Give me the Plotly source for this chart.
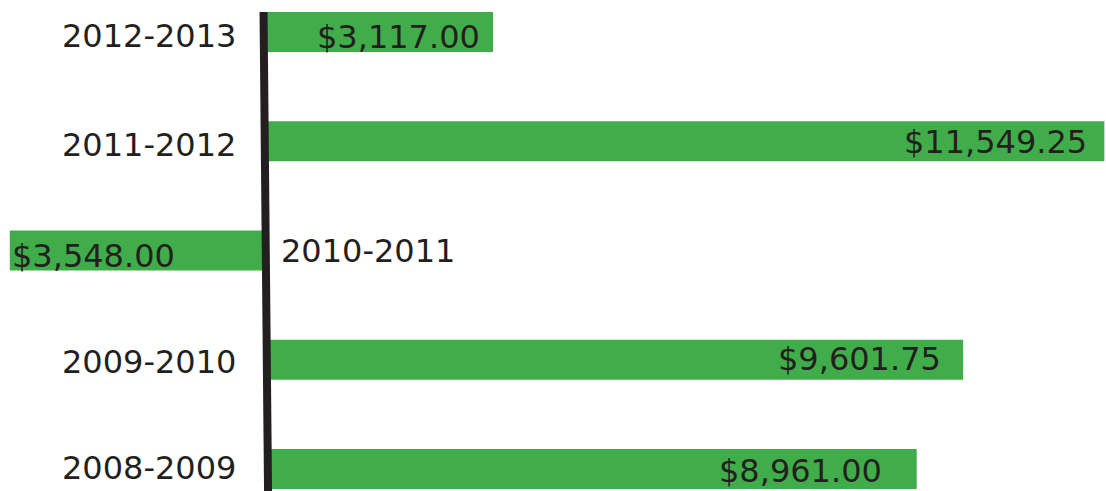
import plotly.graph_objects as go

# School years and the net amount for each one
years = ["2008-2009", "2009-2010", "2010-2011", "2011-2012", "2012-2013"]
amounts = [8961.00, 9601.75, -3548.00, 11549.25, 3117.00]
value_labels = ["$8,961.00", "$9,601.75", "$3,548.00", "$11,549.25", "$3,117.00"]

GREEN = "#40ad4a"
INK = "#231f20"
FONT = "DejaVu Sans, Verdana, sans-serif"
SIZE = 32

# per-row fine tuning of label placement (pixels)
value_gap = [33, 20, 0, 15, 11]
label_dy = [1, -2, 0, -4, -4]
value_dy = [-2, 1, -5, -1, -5]

fig = go.Figure(
    go.Bar(
        x=amounts,
        y=list(range(len(years))),
        orientation="h",
        width=0.366,
        marker=dict(color=GREEN, line=dict(width=0)),
        hoverinfo="skip",
    )
)

annotations = []
for i, (yr, v, lab) in enumerate(zip(years, amounts, value_labels)):
    if v >= 0:
        # year on the left of the axis, value inside the bar's right end
        annotations.append(dict(x=0, y=i, text=yr, xanchor="right", xshift=-29,
                                yshift=label_dy[i], showarrow=False))
        annotations.append(dict(x=v, y=i, text=lab, xanchor="right",
                                xshift=-value_gap[i], yshift=value_dy[i],
                                showarrow=False))
    else:
        # negative year: label goes right of the axis, value at the bar's left end
        annotations.append(dict(x=0, y=i, text=yr, xanchor="left", xshift=12,
                                yshift=label_dy[i], showarrow=False))
        annotations.append(dict(x=v, y=i, text=lab, xanchor="left",
                                xshift=value_gap[i], yshift=value_dy[i],
                                showarrow=False))

fig.update_layout(
    width=1106,
    height=491,
    margin=dict(l=0, r=0, t=0, b=0),
    paper_bgcolor="white",
    plot_bgcolor="white",
    showlegend=False,
    font=dict(family=FONT, size=SIZE, color=INK),
    xaxis=dict(range=[-3683, 11572], visible=False, fixedrange=True),
    yaxis=dict(range=[-0.201, 4.293], visible=False, fixedrange=True),
    annotations=annotations,
    shapes=[
        # zero axis rule
        dict(type="line", xref="x", yref="y",
             x0=-48, y0=4.183, x1=14, y1=-0.201,
             line=dict(color=INK, width=8), layer="above"),
    ],
)

fig.write_html("out.html")
